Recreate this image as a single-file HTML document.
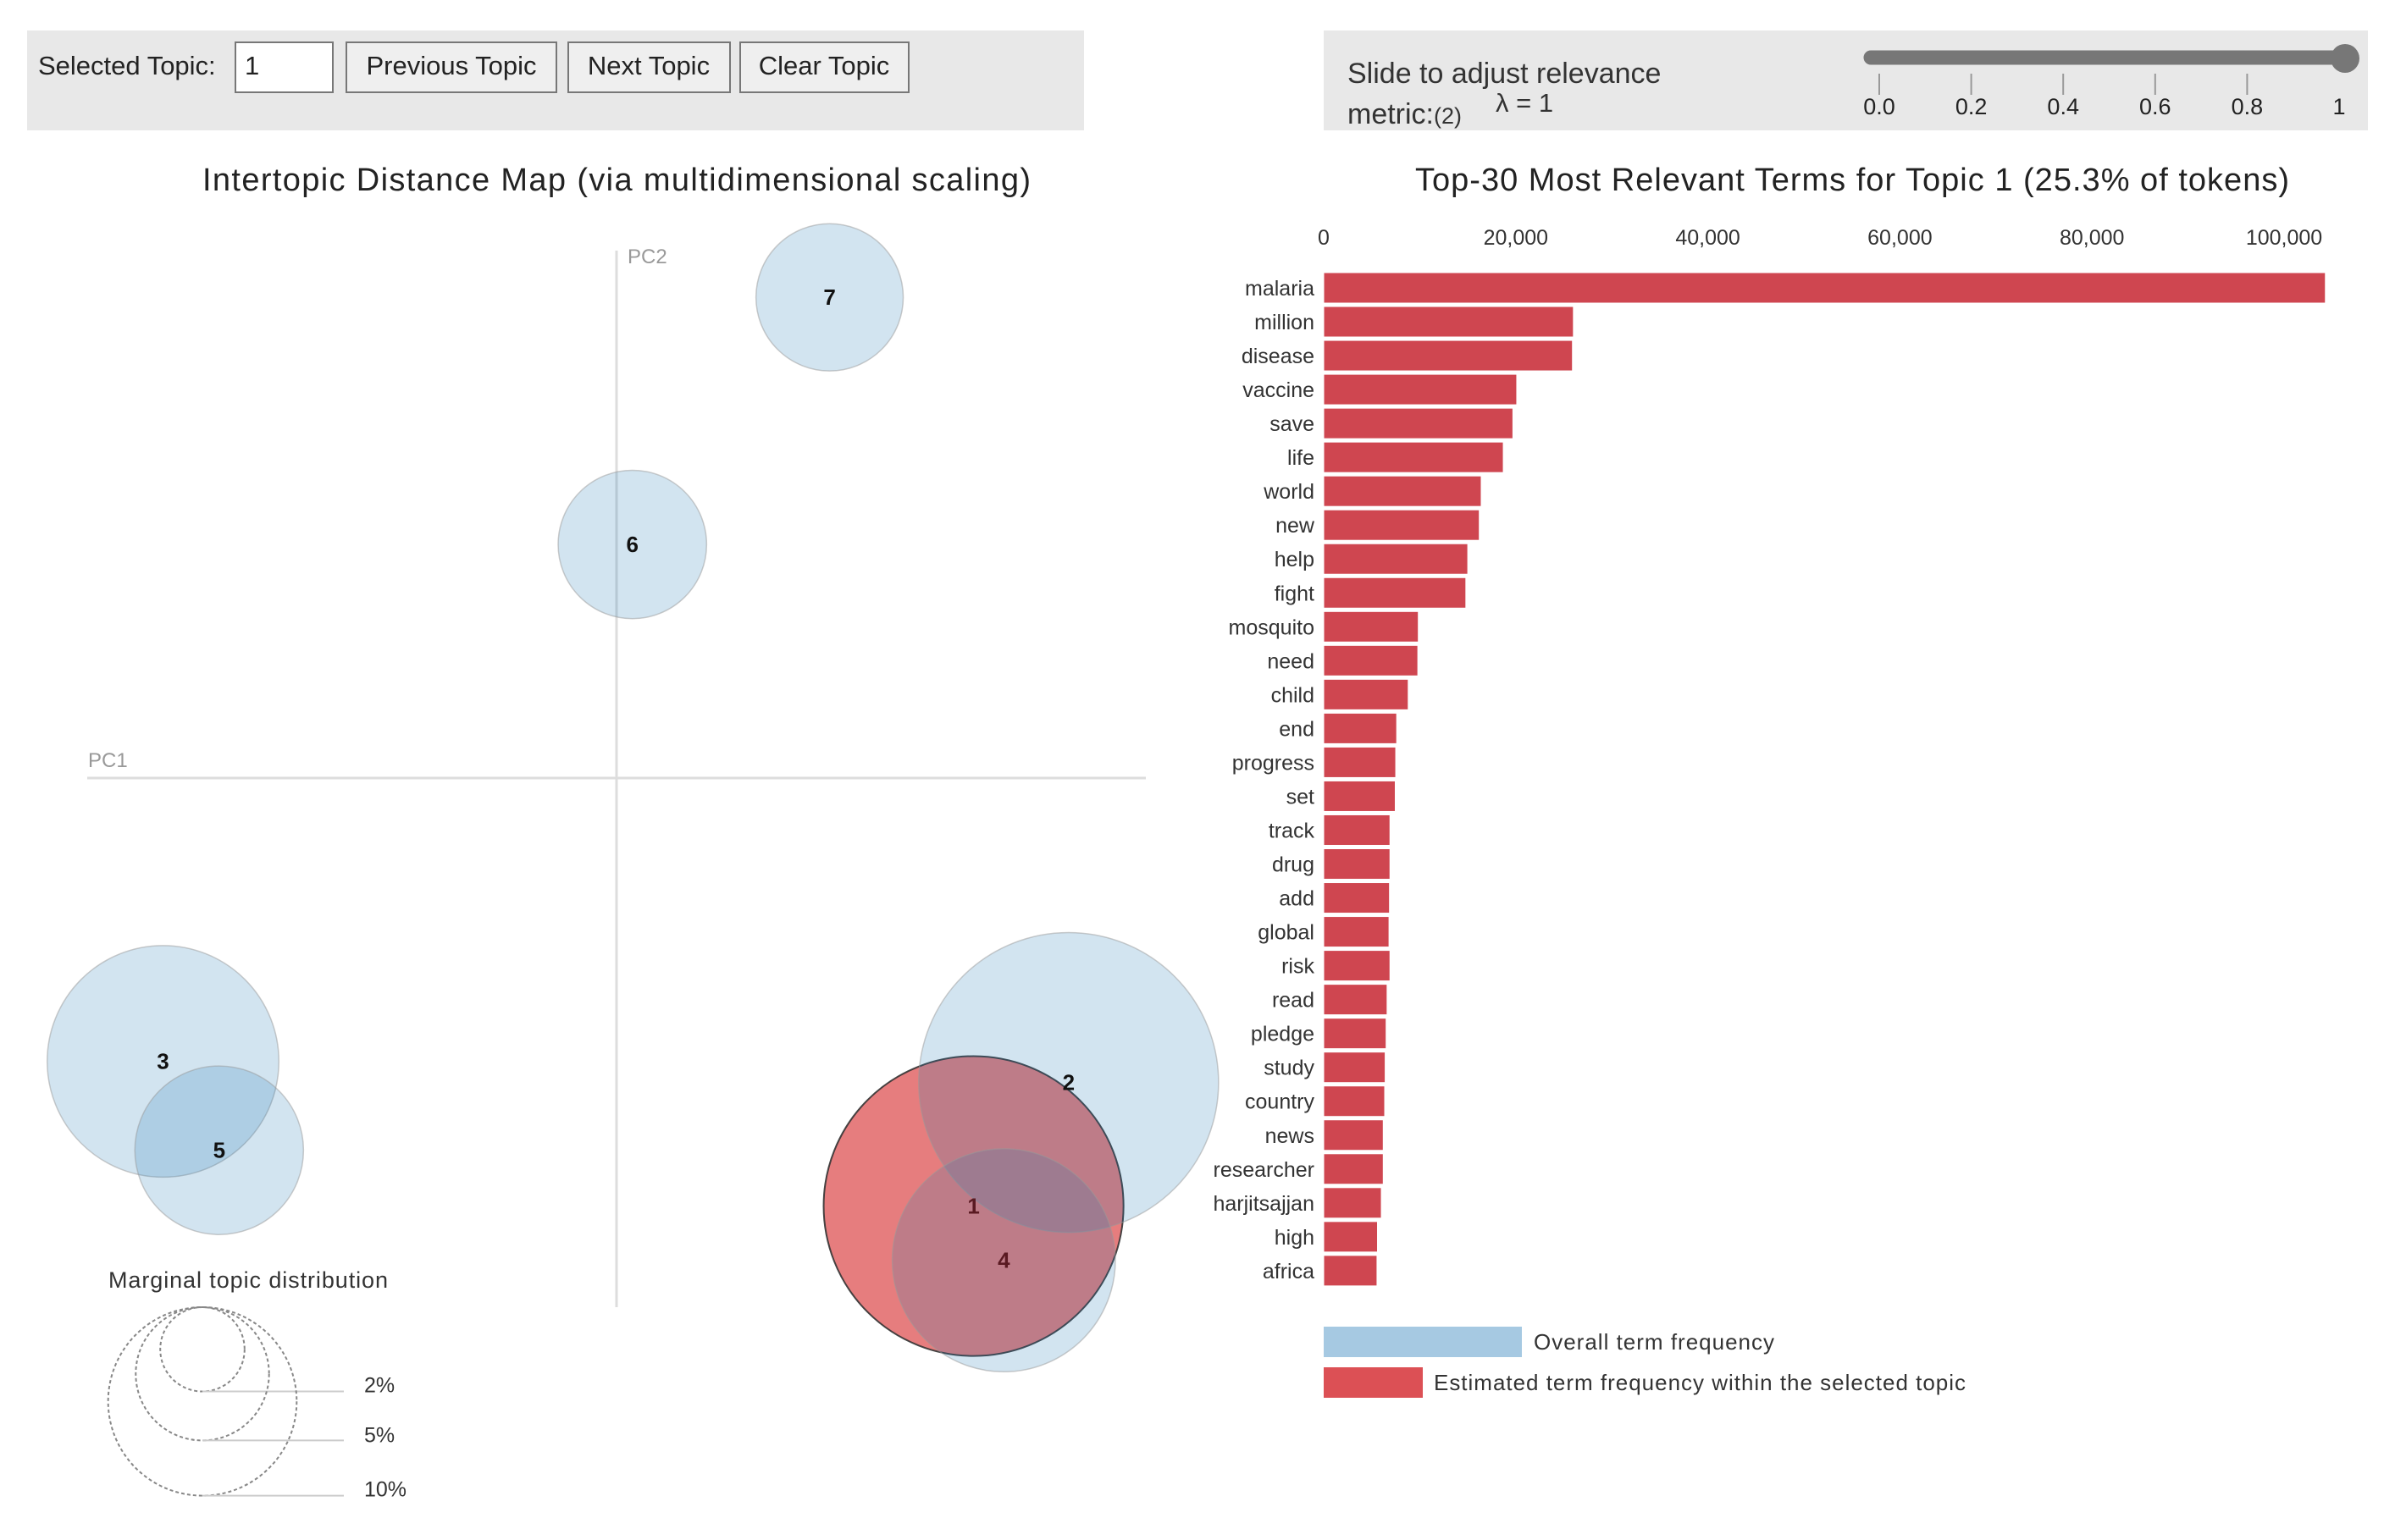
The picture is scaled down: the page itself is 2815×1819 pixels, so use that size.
<!DOCTYPE html>
<html><head><meta charset="utf-8">
<style>
html,body{margin:0;padding:0;background:#fff;}
svg{display:block;font-family:"Liberation Sans",sans-serif;}
</style></head>
<body>
<svg id="root" width="2815" height="1819" viewBox="0 0 2815 1819" xmlns="http://www.w3.org/2000/svg">
  <g>
    <rect x="32" y="36" width="1248" height="118" fill="#e8e8e8"/>
    <text x="45" y="88" font-size="31" fill="#222">Selected Topic:</text>
    <rect x="278" y="50" width="115" height="59" fill="#fff" stroke="#777" stroke-width="2"/>
    <text x="289" y="88" font-size="31" fill="#222">1</text>
    <g>
      <rect x="409" y="50" width="248" height="59" fill="#efefef" stroke="#777" stroke-width="2"/>
      <text x="533" y="88" font-size="31" fill="#222" text-anchor="middle">Previous Topic</text>
    </g>
    <g>
      <rect x="671" y="50" width="191" height="59" fill="#efefef" stroke="#777" stroke-width="2"/>
      <text x="766" y="88" font-size="31" fill="#222" text-anchor="middle">Next Topic</text>
    </g>
    <g>
      <rect x="874" y="50" width="199" height="59" fill="#efefef" stroke="#777" stroke-width="2"/>
      <text x="973" y="88" font-size="31" fill="#222" text-anchor="middle">Clear Topic</text>
    </g>
  </g>
  <g>
    <rect x="1563" y="36" width="1233" height="118" fill="#e8e8e8"/>
    <text x="1591" y="98" font-size="34" fill="#333">Slide to adjust relevance</text>
    <text x="1591" y="146" font-size="34" fill="#333">metric:<tspan font-size="27">(2)</tspan></text>
    <text x="1766" y="132" font-size="31" fill="#333">λ = 1</text>
    <g>
      <line x1="2209" y1="68" x2="2765" y2="68" stroke="#777" stroke-width="17" stroke-linecap="round"/>
      <circle cx="2769" cy="69" r="17" fill="#777"/>
    </g>
    <g id="sliderTicks"></g>
  </g>

  <text x="728" y="225" font-size="38" fill="#222" text-anchor="middle" textLength="978">Intertopic Distance Map (via multidimensional scaling)</text>
  <g>
    <line x1="728" y1="296" x2="728" y2="1544" stroke="#ddd" stroke-width="3"/>
    <line x1="103" y1="919" x2="1353" y2="919" stroke="#ddd" stroke-width="3"/>
    <text x="104" y="906" font-size="24" fill="#999">PC1</text>
    <text x="741" y="311" font-size="24" fill="#999">PC2</text>
  </g>
  <g id="circles"></g>

  <g>
    <text x="128" y="1521" font-size="27" fill="#333" textLength="330">Marginal topic distribution</text>
    <g id="marginal"></g>
  </g>

  <text x="2187" y="225" font-size="38" fill="#222" text-anchor="middle" textLength="1032">Top-30 Most Relevant Terms for Topic 1 (25.3% of tokens)</text>
  <g id="xticks"></g>
  <g id="bars"></g>

  <g>
    <rect x="1563" y="1567" width="234" height="36" fill="#a6c9e2"/>
    <text x="1811" y="1594" font-size="26" fill="#333" textLength="284">Overall term frequency</text>
    <rect x="1563" y="1615" width="117" height="36" fill="#dc5055"/>
    <text x="1693" y="1642" font-size="26" fill="#333" textLength="628">Estimated term frequency within the selected topic</text>
  </g>
</svg>
<script>
const NS = "http://www.w3.org/2000/svg";
// ---- Bar chart data ----
const terms = ["malaria","million","disease","vaccine","save","life","world","new","help","fight","mosquito","need","child","end","progress","set","track","drug","add","global","risk","read","pledge","study","country","news","researcher","harjitsajjan","high","africa"];
const termFreq = [104300,26000,25900,20100,19700,18700,16400,16200,15000,14800,9850,9800,8800,7600,7500,7450,6900,6900,6850,6800,6900,6600,6500,6400,6350,6200,6200,6000,5600,5550];
const xTickValues = [0,20000,40000,60000,80000,100000];
const xTickLabels = ["0","20,000","40,000","60,000","80,000","100,000"];
// ---- Topic map data ----
const topicIds = [1,2,3,4,5,6,7];
const topicPC1 = [0.248,0.314,-0.315,0.269,-0.276,0.011,0.148];
const topicPC2 = [-0.284,-0.202,-0.188,-0.320,-0.247,0.155,0.319];
const topicShare = [25.3,25.3,15.1,14.0,8.0,6.2,6.1];
// ---- Slider / marginal legend data ----
const sliderTicks = [0,0.2,0.4,0.6,0.8,1];
const sliderTickLabels = ["0.0","0.2","0.4","0.6","0.8","1"];
const marginalShares = [2,5,10];
const marginalLabels = ["2%","5%","10%"];

function mk(tag, attrs, parent){const e=document.createElementNS(NS,tag);for(const k in attrs)e.setAttribute(k,attrs[k]);parent.appendChild(e);return e;}

const xScale = v => 1563 + v*(2697-1563)/100000;
const yRow = i => 340 + i*40.03;
const xt = document.getElementById('xticks');
xTickValues.forEach((v,i)=>{
  const t=mk('text',{x:xScale(v),y:289,'font-size':25,fill:'#333','text-anchor':'middle'},xt);
  t.textContent=xTickLabels[i];
  
  
});
const bg=document.getElementById('bars');
terms.forEach((term,i)=>{
  const y=yRow(i);
  const r=mk('rect',{x:xScale(0),y:y-18,width:xScale(termFreq[i])-xScale(0),height:36,fill:'#cf4650',stroke:'#fff','stroke-width':1},bg);
  
  
  const t=mk('text',{x:1552,y:y+9,'font-size':25,fill:'#333','text-anchor':'end'},bg);
  t.textContent=term;
  
  
});

const px = v => 728 + v*1700;
const py = v => 919 - v*1780;
const rad = s => 35.2*Math.sqrt(s);
const cg=document.getElementById('circles');
const order=[0,1,2,3,4,5,6];
order.forEach(i=>{
  const sel = i===0;
  const c=mk('circle',{cx:px(topicPC1[i]),cy:py(topicPC2[i]),r:rad(topicShare[i]),
    fill: sel?'#d62728':'#1f77b4','fill-opacity': sel?0.6:0.2,
    stroke: sel?'#333':'#999','stroke-width': sel?2:1.5,'stroke-opacity':sel?0.9:0.5},cg);
  
  
});
order.forEach(i=>{
  const t=mk('text',{x:px(topicPC1[i]),y:py(topicPC2[i])+9,'font-size':26,'font-weight':'bold',fill: (i===0||i===3)?'#5a1a22':'#111','text-anchor':'middle'},cg);
  t.textContent=topicIds[i];
  
  
});

const mg=document.getElementById('marginal');
const mcx=239, mtop=1544;
const labelDy=[1,2,1];
marginalShares.forEach((s,i)=>{
  const r=rad(s);
  const c=mk('circle',{cx:mcx,cy:mtop+r,r:r,fill:'none',stroke:'#888','stroke-width':2,'stroke-dasharray':'4 3'},mg);
  
  
  const l=mk('line',{x1:mcx,y1:mtop+2*r,x2:406,y2:mtop+2*r,stroke:'#ccc','stroke-width':2},mg);
  
  
  const t=mk('text',{x:430,y:mtop+2*r+labelDy[i],'font-size':25,fill:'#333'},mg);
  t.textContent=marginalLabels[i];
  
  
});

const sx = v => 2219 + v*(2762-2219);
const sg=document.getElementById('sliderTicks');
sliderTicks.forEach((v,i)=>{
  if(i<sliderTicks.length-1){
    const l=mk('line',{x1:sx(v),y1:87,x2:sx(v),y2:112,stroke:'#999','stroke-width':2},sg);
    
    
  }
  const t=mk('text',{x:sx(v),y:135,'font-size':27,fill:'#222','text-anchor':'middle'},sg);
  t.textContent=sliderTickLabels[i];
  
  
});
</script>
</body></html>
